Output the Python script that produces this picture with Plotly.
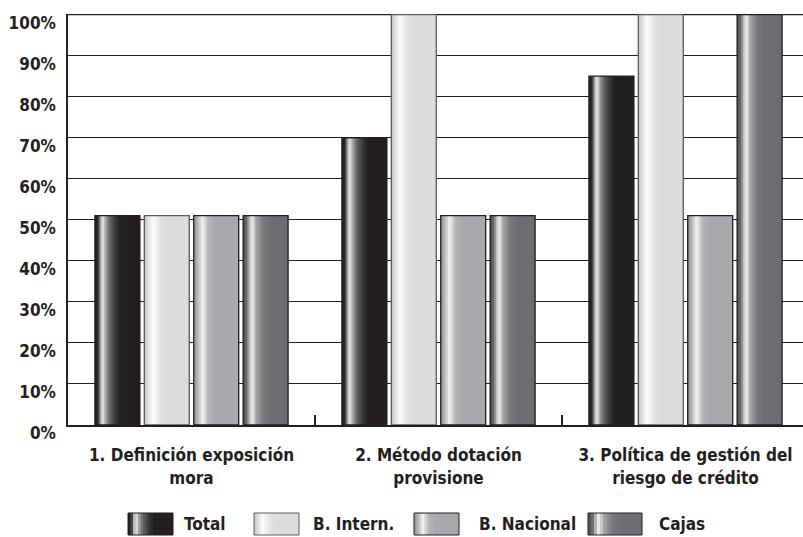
import plotly.graph_objects as go

# ---------------- data ----------------
categories = ["1. Definición exposición<br>mora",
              "2. Método dotación<br>provisione",
              "3. Política de gestión del<br>riesgo de crédito"]
series_names = ["Total", "B. Intern.", "B. Nacional", "Cajas"]
total = [51, 70, 85]
b_intern = [51, 100, 100]
b_nacional = [51, 51, 51]
cajas = [51, 51, 100]
y_ticks = [0, 10, 20, 30, 40, 50, 60, 70, 80, 90, 100]
y_tick_labels = [f"{v}%" for v in y_ticks]

series_values = [total, b_intern, b_nacional, cajas]

# ---------------- style ----------------
INK = "#231f20"
FONT = "DejaVu Sans Condensed, DejaVu Sans, Liberation Sans Narrow, sans-serif"
# gradient stops (t across bar width, colour)
GRADIENTS = [
    [(0.0, "#231f20"), (0.07, "#2a2a2a"), (0.12, "#9a9a9a"), (0.17, "#f5f5f5"), (0.22, "#b4b4b4"),
     (0.32, "#6a6a6a"), (0.45, "#3a3a3a"), (0.58, "#231f20"), (1.0, "#231f20")],
    [(0.0, "#c2c3c5"), (0.1, "#e4e4e4"), (0.2, "#fcfcfc"), (0.35, "#e1e2e4"), (0.5, "#dcdddf"), (1.0, "#dcdddf")],
    [(0.0, "#8a8c8f"), (0.1, "#bdbdbd"), (0.2, "#f4f4f4"), (0.32, "#b6b7b9"), (0.48, "#a7a9ac"), (1.0, "#a7a9ac")],
    [(0.0, "#4a4a4c"), (0.08, "#6a6a6c"), (0.16, "#cfcfcf"), (0.21, "#f2f2f2"), (0.28, "#a8a8aa"),
     (0.45, "#78797c"), (0.6, "#6d6e71"), (1.0, "#6d6e71")],
]
OUTLINE = [INK, "#5a5a5a", INK, INK]
BAR_CENTERS = [-0.3, -0.1, 0.1, 0.3]
BAR_W = 0.182
STRIPS = 24


def hex2rgb(h):
    h = h.lstrip("#")
    return tuple(int(h[i:i + 2], 16) for i in (0, 2, 4))


def grad_color(stops, t):
    for (t0, c0), (t1, c1) in zip(stops[:-1], stops[1:]):
        if t0 <= t <= t1:
            f = 0 if t1 == t0 else (t - t0) / (t1 - t0)
            a, b = hex2rgb(c0), hex2rgb(c1)
            r = [round(a[k] + (b[k] - a[k]) * f) for k in range(3)]
            return f"rgb({r[0]},{r[1]},{r[2]})"
    return stops[-1][1]


fig = go.Figure()
for s, (name, vals) in enumerate(zip(series_names, series_values)):
    left = BAR_CENTERS[s] - BAR_W / 2
    sw = BAR_W / STRIPS
    for i in range(STRIPS):
        t = (i + 0.5) / STRIPS
        fig.add_trace(go.Bar(
            x=categories, y=vals, name=name, legendgroup=name, showlegend=False,
            offset=left + i * sw, width=min(2 * sw, BAR_W - i * sw),
            marker=dict(color=grad_color(GRADIENTS[s], t), line=dict(width=0)),
            hoverinfo="skip"))
    fig.add_trace(go.Bar(
        x=categories, y=vals, name=name, legendgroup=name, showlegend=False,
        offset=left, width=BAR_W,
        marker=dict(color="rgba(0,0,0,0)", line=dict(color=OUTLINE[s], width=1.3)),
        hovertemplate=name + ": %{y}%<extra></extra>"))

# ---------------- layout ----------------
W, H = 803, 537
ML, MR, MT, MB = 68, 0, 14, 112
plot_w, plot_h = W - ML - MR, H - MT - MB


def px2paper_x(px):
    return (px - ML) / plot_w


def px2paper_y(py):
    return (H - MB - py) / plot_h


shapes = [dict(type="line", xref="paper", yref="y", x0=0, x1=1, y0=y_ticks[-1], y1=y_ticks[-1],
               line=dict(color=INK, width=1.2), layer="below")]
annotations = []
legend_items = [(128, 173, 182), (254, 299, 311), (414, 459, 477), (588, 642, 657)]
SW_TOP, SW_BOT, TXT_Y = 513, 535, 524
for s, (x0, x1, tx) in enumerate(legend_items):
    n = 18
    for i in range(n):
        t = (i + 0.5) / n
        a = x0 + (x1 - x0) * i / n
        b = min(x1, x0 + (x1 - x0) * (i + 2) / n)
        shapes.append(dict(type="rect", xref="paper", yref="paper",
                           x0=px2paper_x(a), x1=px2paper_x(b),
                           y0=px2paper_y(SW_BOT), y1=px2paper_y(SW_TOP),
                           fillcolor=grad_color(GRADIENTS[s], t), line=dict(width=0), layer="above"))
    shapes.append(dict(type="rect", xref="paper", yref="paper",
                       x0=px2paper_x(x0), x1=px2paper_x(x1),
                       y0=px2paper_y(SW_BOT), y1=px2paper_y(SW_TOP),
                       fillcolor="rgba(0,0,0,0)", line=dict(width=1, color=OUTLINE[s]), layer="above"))
    annotations.append(dict(xref="paper", yref="paper", x=px2paper_x(tx), y=px2paper_y(TXT_Y),
                            xanchor="left", yanchor="middle", showarrow=False,
                            text=series_names[s],
                            font=dict(family=FONT, size=17, color=INK, weight="bold")))

fig.update_layout(
    width=W, height=H,
    margin=dict(l=ML, r=MR, t=MT, b=MB, pad=0),
    paper_bgcolor="white", plot_bgcolor="white",
    barmode="overlay", showlegend=False,
    shapes=shapes, annotations=annotations,
    font=dict(family=FONT, color=INK),
)
fig.update_xaxes(
    type="category", range=[-0.5, -0.5 + plot_w / 247],
    showline=True, linecolor=INK, linewidth=2,
    ticks="inside", tickson="boundaries", ticklen=10, tickwidth=1.5, tickcolor=INK,
    showgrid=False, ticklabelstandoff=14, automargin=False,
    tickfont=dict(family=FONT, size=17, color=INK, weight="bold"),
)
fig.update_yaxes(
    range=[0, 100.15], tickvals=y_ticks, ticktext=y_tick_labels,
    showline=True, linecolor=INK, linewidth=1.5,
    showgrid=True, gridcolor=INK, gridwidth=1.2, zeroline=False,
    ticks="", ticklabelstandoff=7, ticklabelshift=8, ticklabeloverflow="allow",
    automargin=False,
    tickfont=dict(family=FONT, size=17, color=INK, weight="bold"),
)

fig.write_html("out.html", config={"displayModeBar": False},
               post_script="document.body.style.margin='0';document.body.style.overflow='hidden';")
